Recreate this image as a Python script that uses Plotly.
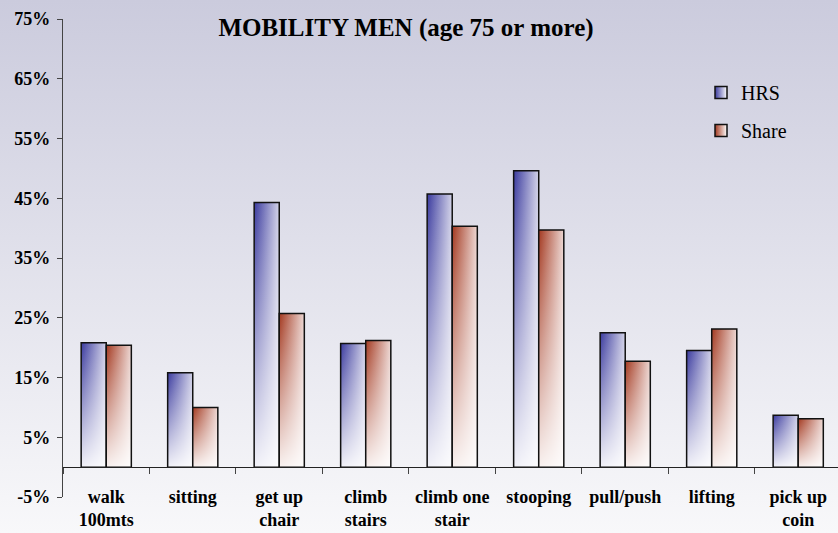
import base64
import plotly.graph_objects as go

# Mobility limitations, men aged 75+, HRS vs SHARE (percent)
categories = ["walk<br>100mts", "sitting", "get up<br>chair", "climb<br>stairs",
              "climb one<br>stair", "stooping", "pull/push", "lifting", "pick up<br>coin"]
hrs = [20.8, 15.8, 44.3, 20.7, 45.7, 49.6, 22.5, 19.5, 8.7]
share = [20.4, 10.0, 25.7, 21.2, 40.3, 39.7, 17.7, 23.1, 8.1]

y_ticks = [-5, 5, 15, 25, 35, 45, 55, 65, 75]
y_ticktext = ["-5%", "5%", "15%", "25%", "35%", "45%", "55%", "65%", "75%"]

Y_MIN, Y_MAX = -5, 75
BAR_W = 0.29
SERIF = "Liberation Serif"

series = [
    ("HRS", hrs, -BAR_W, "#3a3a9e", "#d2d2e8"),
    ("Share", share, 0.0, "#a3381f", "#ecd6d2"),
]

fig = go.Figure()

for name, values, offset, dark, light in series:
    for i, v in enumerate(values):
        x0, x1 = i + offset, i + offset + BAR_W
        xs = [x0, x0, x1, x1, x0]
        ys = [0, v, v, 0, 0]
        # colour running left to right
        fig.add_trace(go.Scatter(
            x=xs, y=ys, mode="lines", fill="toself", line=dict(width=0),
            fillcolor=dark,
            fillgradient=dict(type="horizontal", start=x0, stop=x1,
                              colorscale=[[0, dark], [1, light]]),
            showlegend=False, hoverinfo="skip"))
        # fade to white towards the base, plus the outline
        fig.add_trace(go.Scatter(
            x=xs, y=ys, mode="lines", fill="toself",
            line=dict(color="#111111", width=1.5),
            fillcolor="rgba(255,255,255,0.5)",
            fillgradient=dict(type="vertical", start=0, stop=v,
                              colorscale=[[0, "rgba(255,255,255,0.93)"],
                                          [1, "rgba(255,255,255,0)"]]),
            showlegend=False, hovertemplate=f"{name}: {v}%<extra></extra>"))

# legend entries
for name, values, offset, dark, light in series:
    fig.add_trace(go.Scatter(
        x=[None], y=[None], mode="markers", name=name, legendgroup=name,
        marker=dict(symbol="square", size=12, color=dark,
                    gradient=dict(type="horizontal", color="white"),
                    line=dict(color="#111111", width=1.5))))

# carrier for the baseline axis at y = 0
fig.add_trace(go.Scatter(x=[None], y=[None], xaxis="x2", showlegend=False,
                         hoverinfo="skip"))

n = len(categories)
x_range = [-0.5, n - 0.54]
zero_pos = (0 - Y_MIN) / (Y_MAX - Y_MIN)

bg_svg = (
    '<svg xmlns="http://www.w3.org/2000/svg" width="838" height="533" '
    'preserveAspectRatio="none"><defs><linearGradient id="g" x1="0" y1="0" '
    'x2="0" y2="1"><stop offset="0" stop-color="#cbcbdd"/>'
    '<stop offset="1" stop-color="#f8f8fa"/></linearGradient></defs>'
    '<rect width="838" height="533" fill="url(#g)"/></svg>'
)
bg_uri = "data:image/svg+xml;base64," + base64.b64encode(bg_svg.encode()).decode()

L, R, T, B = 63, 0, 19, 36
W, H = 838, 533
pw, ph = W - L - R, H - T - B

fig.update_layout(
    width=W, height=H,
    margin=dict(l=L, r=R, t=T, b=B),
    paper_bgcolor="#f0f0f5",
    plot_bgcolor="rgba(0,0,0,0)",
    images=[dict(source=bg_uri, xref="paper", yref="paper",
                 x=-L / pw, y=1 + T / ph, sizex=W / pw, sizey=H / ph,
                 xanchor="left", yanchor="top", sizing="stretch",
                 layer="below")],
    title=dict(text="<b>MOBILITY MEN (age 75 or more)</b>",
               font=dict(family=SERIF, size=25, color="black"),
               x=406 / W, xanchor="center", xref="container",
               y=1 - 27 / H, yanchor="middle", yref="container"),
    xaxis=dict(range=x_range, tickmode="array", tickvals=list(range(n)),
               ticktext=categories, ticks="", showline=False, showgrid=False,
               zeroline=False, anchor="free", position=0.027,
               tickfont=dict(family=SERIF, size=18, color="black", weight="bold")),
    xaxis2=dict(range=x_range, overlaying="x", anchor="free", position=zero_pos,
                side="bottom", showline=True, linecolor="#222222", linewidth=1.2,
                ticks="outside", ticklen=6, tickcolor="#444444", tickwidth=1.2,
                tickmode="array", tickvals=[i + 0.5 for i in range(-1, n)],
                showticklabels=False, showgrid=False, zeroline=False),
    yaxis=dict(range=[Y_MIN, Y_MAX], tickmode="array", tickvals=y_ticks,
               ticktext=y_ticktext, ticks="outside", ticklen=5,
               tickcolor="#444444", tickwidth=1.2, showline=True,
               linecolor="#444444", linewidth=1.2, showgrid=False,
               zeroline=False, ticklabelstandoff=3,
               tickfont=dict(family=SERIF, size=18, color="black", weight="bold")),
    legend=dict(x=(701 - L) / pw, y=(H - B - 73) / ph, xanchor="left",
                yanchor="top", bgcolor="rgba(0,0,0,0)", tracegroupgap=9,
                font=dict(family=SERIF, size=20, color="black")),
    showlegend=True,
)

fig.write_html("out.html")
